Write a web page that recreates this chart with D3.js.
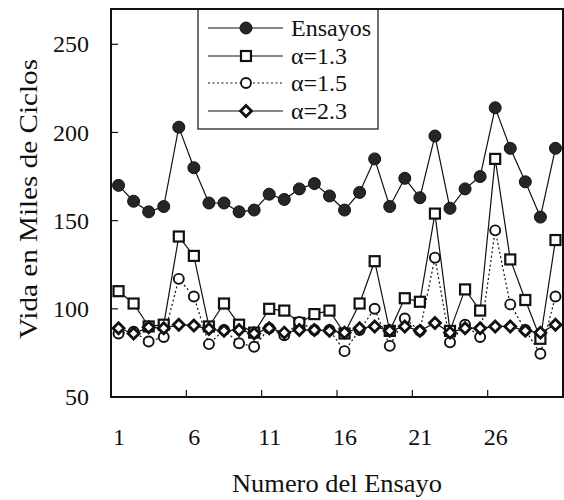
<!DOCTYPE html>
<html>
<head>
<meta charset="utf-8">
<script src="https://cdn.jsdelivr.net/npm/d3@7/dist/d3.min.js"></script>
<style>
  html, body { margin: 0; padding: 0; background: #fff; }
  svg { display: block; }
  text { font-family: "Liberation Serif", "Times New Roman", serif; fill: #111; }
</style>
</head>
<body>
<svg id="chart" width="564" height="500"></svg>
<script>
// ---- data ----
const trials = d3.range(1, 31);
const ensayos = [170,161,155,158,203,180,160,160,155,156,165,162,168,171,164,156,166,185,158,174,163,198,157,168,175,214,191,172,152,191];
const alpha13 = [110,103,90,91,141,130,90,103,91,86.5,100,99,92,97,99,86,103,127,87.5,106,104,154,87.5,111,99,185,128,105,83,139];
const alpha15 = [86,87,81.5,84,117,107,80,88,80.5,78.5,89,85,92.5,88,88,76,88,100,79,94.5,87.5,129,81,91,84,144.5,102.5,88,74.5,107];
const alpha23 = [89,86,89.5,89,91,90.5,88.5,87.5,88,86,89,86.5,88,88,87.5,86.5,89,90,87.5,90,87.5,92,86.5,89,89,90,90,87.5,86.5,91];
const seriesNames = ["Ensayos", "\u03b1=1.3", "\u03b1=1.5", "\u03b1=2.3"];
const xTickLabels = [1, 6, 11, 16, 21, 26];
const xTickMarks = [5.5, 10.5, 15.5, 20.5, 25.5];
const yTickLabels = [50, 100, 150, 200, 250];

// ---- layout ----
const svg = d3.select("#chart");
const L = 111, R = 563, T = 9, B = 397;
const x = d3.scaleLinear().domain([0.5, 30.5]).range([L, R]);
const y = d3.scaleLinear().domain([50, 270]).range([B, T]);

// frame
svg.append("rect").attr("x", L).attr("y", T).attr("width", R - L).attr("height", B - T)
  .attr("fill", "none").attr("stroke", "#111").attr("stroke-width", 2);

// y axis ticks & labels
const yAxis = d3.axisLeft(y).tickValues(yTickLabels).tickSize(0).tickPadding(22).tickFormat(d3.format("d"));
const gy = svg.append("g").attr("transform", `translate(${L},0)`).call(yAxis);
gy.select(".domain").remove();
gy.selectAll("text").style("font-size", "24px").style("font-family", "Liberation Serif").attr("fill", "#111");
svg.append("g").selectAll("line").data(yTickLabels.filter(v => v > 50)).join("line")
  .attr("x1", L).attr("x2", L + 7).attr("y1", d => y(d)).attr("y2", d => y(d))
  .attr("stroke", "#111").attr("stroke-width", 1.2);

// x axis labels
const xAxis = d3.axisBottom(x).tickValues(xTickLabels).tickSize(0).tickPadding(31).tickFormat(d3.format("d"));
const gx = svg.append("g").attr("transform", `translate(0,${B})`).call(xAxis);
gx.select(".domain").remove();
gx.selectAll("text").style("font-size", "24px").style("font-family", "Liberation Serif").attr("fill", "#111");
svg.append("g").selectAll("line").data(xTickMarks).join("line")
  .attr("x1", d => x(d)).attr("x2", d => x(d)).attr("y1", B).attr("y2", B - 7)
  .attr("stroke", "#111").attr("stroke-width", 1.2);

// axis titles
svg.append("text").attr("transform", "translate(37,199) rotate(-90)")
  .attr("text-anchor", "middle").style("font-size", "25px")
  .attr("textLength", 280).attr("lengthAdjust", "spacingAndGlyphs").text("Vida en Miles de Ciclos");
svg.append("text").attr("x", 337).attr("y", 492)
  .attr("text-anchor", "middle").style("font-size", "25px")
  .attr("textLength", 210).attr("lengthAdjust", "spacingAndGlyphs").text("Numero del Ensayo");

// ---- series ----
const seriesData = [ensayos, alpha13, alpha15, alpha23];
const dashes = [null, null, "2,2.5", null];
const line = d3.line().x((d, i) => x(trials[i])).y(d => y(d));

seriesData.forEach((vals, k) => {
  svg.append("path").datum(vals).attr("d", line)
    .attr("fill", "none").attr("stroke", "#111").attr("stroke-width", 1.2)
    .attr("stroke-dasharray", dashes[k]);
});

function drawMarker(g, k, cx, cy) {
  if (k === 0) {
    g.append("circle").attr("cx", cx).attr("cy", cy).attr("r", 6).attr("fill", "#262626").attr("stroke", "#111").attr("stroke-width", 1);
  } else if (k === 1) {
    g.append("rect").attr("x", cx - 5).attr("y", cy - 5).attr("width", 10).attr("height", 10)
      .attr("fill", "#fff").attr("stroke", "#111").attr("stroke-width", 2.2);
  } else if (k === 2) {
    g.append("circle").attr("cx", cx).attr("cy", cy).attr("r", 5).attr("fill", "#fff").attr("stroke", "#111").attr("stroke-width", 1.9);
  } else {
    g.append("path").attr("d", `M${cx},${cy - 5.5}L${cx + 5.5},${cy}L${cx},${cy + 5.5}L${cx - 5.5},${cy}Z`)
      .attr("fill", "#fff").attr("stroke", "#111").attr("stroke-width", 2.8);
  }
}

seriesData.forEach((vals, k) => {
  const g = svg.append("g");
  vals.forEach((v, i) => drawMarker(g, k, x(trials[i]), y(v)));
});

// ---- legend ----
const lg = svg.append("g");
lg.append("rect").attr("x", 198).attr("y", T).attr("width", 180).attr("height", 120)
  .attr("fill", "#fff").attr("stroke", "#111").attr("stroke-width", 1.2);
const rowY = [28, 56, 83, 111];
seriesNames.forEach((name, k) => {
  lg.append("line").attr("x1", 208).attr("x2", 283).attr("y1", rowY[k]).attr("y2", rowY[k])
    .attr("stroke", "#111").attr("stroke-width", 1.2).attr("stroke-dasharray", dashes[k]);
  drawMarker(lg, k, 246, rowY[k]);
  lg.append("text").attr("x", 291).attr("y", rowY[k] + 8).style("font-size", "24px").text(name);
});
// redraw top frame line over legend
svg.append("line").attr("x1", L).attr("x2", R).attr("y1", T).attr("y2", T).attr("stroke", "#111").attr("stroke-width", 2);
</script>
</body>
</html>
